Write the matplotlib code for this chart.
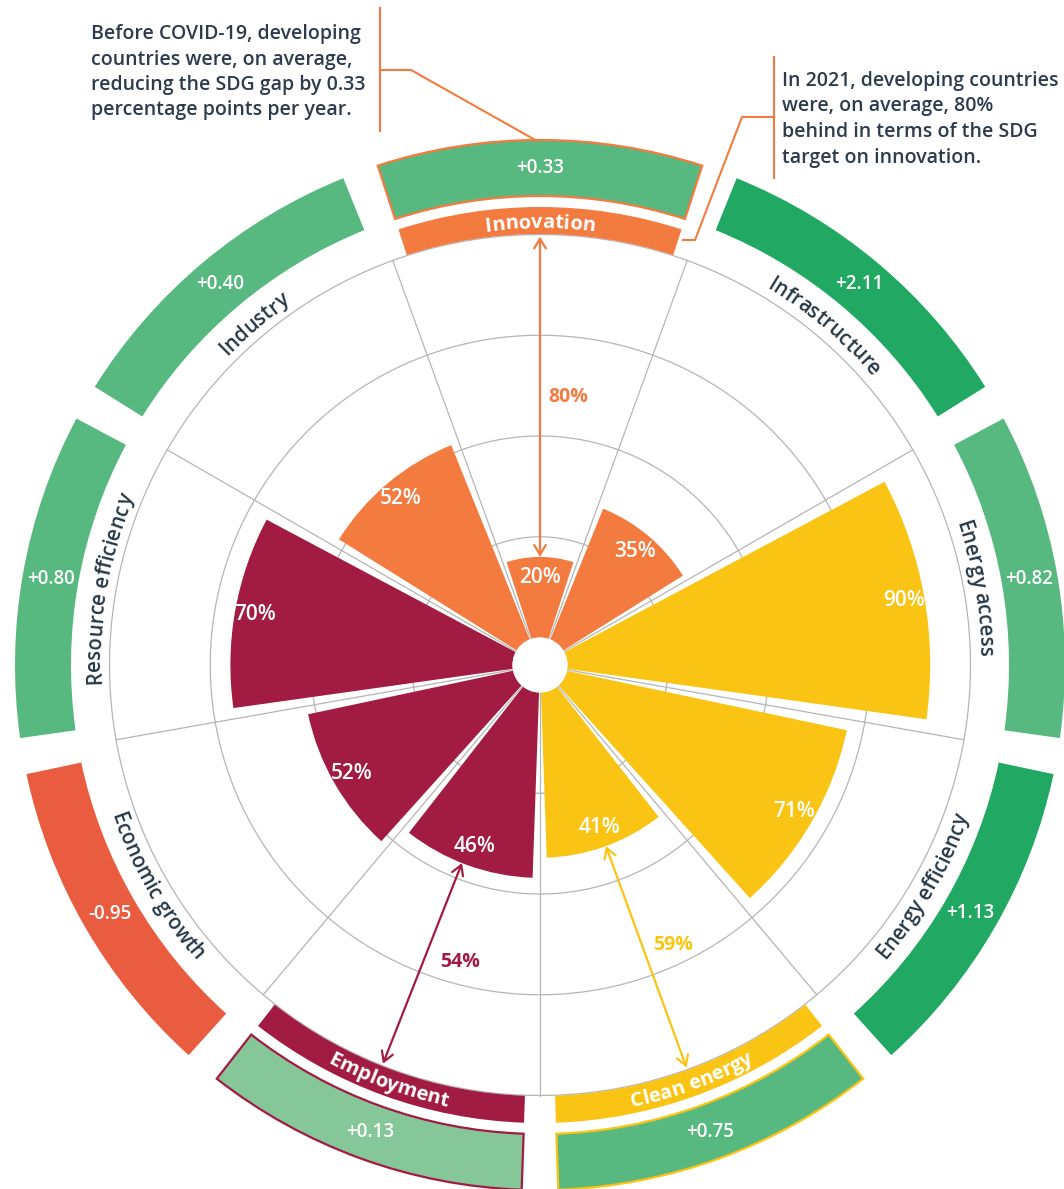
import numpy as np
import matplotlib
matplotlib.use("Agg")
import matplotlib.pyplot as plt
from matplotlib.lines import Line2D
from matplotlib.font_manager import FontProperties

# data
categories = ["Innovation", "Infrastructure", "Energy access", "Energy efficiency",
              "Clean energy", "Employment", "Economic growth", "Resource efficiency",
              "Industry"]
progress_2021 = [20, 35, 90, 71, 41, 46, 52, 70, 52]          # % of SDG target reached
yearly_change = [0.33, 2.11, 0.82, 1.13, 0.75, 0.13, -0.95, 0.80, 0.40]
sdg_group = ["SDG9", "SDG9", "SDG7", "SDG7", "SDG7", "SDG8", "SDG8", "SDG8", "SDG9"]
highlighted = ["Innovation", "Clean energy", "Employment"]
grid_levels = [25, 50, 75, 100]

note_left = ["Before COVID-19, developing",
             "countries were, on average,",
             "reducing the SDG gap by 0.33",
             "percentage points per year."]
note_right = ["In 2021, developing countries",
              "were, on average, 80%",
              "behind in terms of the SDG",
              "target on innovation."]

# styles
group_colors = {"SDG9": "#F47B3F", "SDG7": "#F9C413", "SDG8": "#A11B42"}
TEXT_DARK = "#263746"
GRID = "#B5B5B5"
FONT = "Open Sans"
arrow_shift = {"Innovation": 0.0, "Clean energy": 0.0, "Employment": 1.5}
arrow_label_shift = {"Innovation": 6.0, "Clean energy": -5.4, "Employment": -5.0}
arrow_label_dr = {"Innovation": 0.0, "Clean energy": -0.5, "Employment": -3.5}


def ring_color(v):
    if v < 0:
        return "#E95C3F"
    if v < 0.2:
        return "#86C799"
    if v > 1:
        return "#21A862"
    return "#57B880"


# geometry in pixels of the 1064x1189 canvas
W, H = 1064, 1189
CX, CY = 540, 665
PX = 4.03          # pixels per percentage point
HOLE = 27.5        # radius of the empty centre
ORIGIN = HOLE / PX
R_AX = 545


def rv(r_px):
    """pixel radius -> radial data value"""
    return r_px / PX - ORIGIN


fig = plt.figure(figsize=(W / 100, H / 100), dpi=100)
ax = fig.add_axes([(CX - R_AX) / W, (H - CY - R_AX) / H, 2 * R_AX / W, 2 * R_AX / H],
                  projection="polar")
ax.set_theta_zero_location("N")
ax.set_theta_direction(-1)
ax.set_ylim(0, rv(R_AX))
ax.set_rorigin(-ORIGIN)
ax.set_axis_off()

n = len(categories)
centers = np.arange(n) * 360 / n
theta = np.deg2rad(centers)
width = np.deg2rad(36)
bar_colors = [group_colors[g] for g in sdg_group]

# grid
t = np.linspace(0, 2 * np.pi, 721)
for g in grid_levels:
    ax.plot(t, np.full_like(t, g), color=GRID, lw=0.9, zorder=1)
for b in centers + 20:
    ax.plot([np.deg2rad(b)] * 2, [0, 100], color=GRID, lw=0.9, zorder=1)

# bars
ax.bar(theta, progress_2021, width=width, bottom=0, color=bar_colors, lw=0, zorder=2)
for th, v in zip(theta, progress_2021):
    ax.text(th, v - 5, f"{v}%", ha="center", va="center", color="white",
            fontsize=15, fontweight="semibold", family=FONT, zorder=5)

# outer ring with yearly change
ring_in, ring_out = rv(469), rv(525)
edge = [bar_colors[i] if c in highlighted else "none" for i, c in enumerate(categories)]
ax.bar(theta, ring_out - ring_in, width=width, bottom=ring_in,
       color=[ring_color(v) for v in yearly_change], edgecolor=edge, lw=1.6, zorder=2)
for th, v in zip(theta, yearly_change):
    ax.text(th, rv(497), f"{v:+.2f}", ha="center", va="center", color="white",
            fontsize=13.5, fontweight="semibold", family=FONT, zorder=5)

# label bands for the highlighted goals
hi = [categories.index(c) for c in highlighted]
band_in, band_out = rv(431), rv(458)
ax.bar(theta[hi], band_out - band_in, width=width, bottom=band_in,
       color=[bar_colors[i] for i in hi], lw=0, zorder=2)

renderer = fig.canvas.get_renderer()


def arc_text(text, ang_c, r_px, size, color, weight, outward):
    fp = FontProperties(family=FONT, size=size, weight=weight)
    bw = renderer.get_text_width_height_descent("|", fp, ismath=False)[0]
    lefts = [renderer.get_text_width_height_descent(text[:i] + "|", fp, ismath=False)[0] - bw
             for i in range(len(text) + 1)]
    total = lefts[-1]
    cap = size * 100 / 72 * 0.71
    base = r_px - cap / 2 if outward else r_px + cap / 2
    for i, ch in enumerate(text):
        if ch == " ":
            continue
        mid = (lefts[i] + lefts[i + 1]) / 2 - total / 2
        d = np.rad2deg(mid / base)
        if outward:
            ang, rot = ang_c + d, -(ang_c + d)
        else:
            ang, rot = ang_c - d, 180 - (ang_c - d)
        ax.text(np.deg2rad(ang), rv(base), ch, rotation=rot, rotation_mode="anchor",
                ha="center", va="baseline", color=color, fontproperties=fp, zorder=6)


for i, c in enumerate(categories):
    outward = not (90 < centers[i] < 270)
    if c in highlighted:
        arc_text(c, centers[i], 444, 14.5, "white", "bold", outward)
    else:
        arc_text(c, centers[i], 447, 14.8, TEXT_DARK, "semibold", outward)

# distance-to-target arrows
for i in hi:
    c = categories[i]
    v = progress_2021[i]
    a = np.deg2rad(centers[i] + arrow_shift[c])
    ax.annotate("", xy=(a, 99.5), xytext=(a, v),
                arrowprops=dict(arrowstyle="<->,head_length=0.5,head_width=0.3",
                                color=bar_colors[i], lw=1.6, shrinkA=0, shrinkB=0,
                                mutation_scale=14), zorder=4)
    ax.text(np.deg2rad(centers[i] + arrow_label_shift[c]), (v + 100) / 2 + arrow_label_dr[c],
            f"{100 - v}%", ha="center", va="center", color=bar_colors[i], fontsize=14,
            fontweight="bold", family=FONT, zorder=5)


# callouts at the top
def fpt(x, y):
    return x / W, 1 - y / H


orange = group_colors["SDG9"]
for pts in [[(380, 8), (380, 131)], [(380, 70), (411, 70), (537, 141)],
            [(774, 57), (774, 178)], [(774, 117), (742, 117), (695, 240), (683, 240)]]:
    xs, ys = zip(*[fpt(x, y) for x, y in pts])
    fig.add_artist(Line2D(xs, ys, color=orange, lw=1.5, transform=fig.transFigure))

for k, line in enumerate(note_left):
    fig.text(*fpt(91, 39 + 25.5 * k), line, ha="left", va="baseline", fontsize=14,
             fontweight="semibold", family=FONT, color="#2E3B4D")
for k, line in enumerate(note_right):
    fig.text(*fpt(782, 86 + 25.5 * k), line, ha="left", va="baseline", fontsize=14,
             fontweight="semibold", family=FONT, color="#2E3B4D")

fig.savefig("out.png", dpi=100, facecolor="white")
